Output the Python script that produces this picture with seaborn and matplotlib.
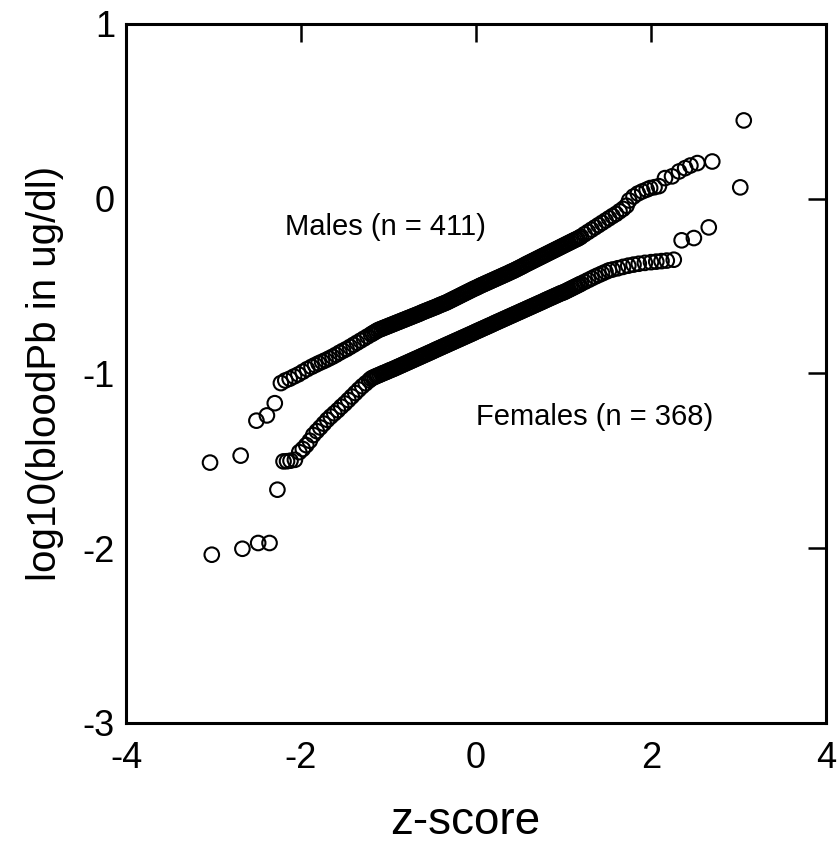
import matplotlib
matplotlib.use('Agg')
import matplotlib.pyplot as plt
import seaborn as sns
import pandas as pd

# Setup

sns.set_theme(style='white')
plt.rcParams['font.family'] = ['Liberation Sans', 'DejaVu Sans']
plt.rcParams['axes.unicode_minus'] = False

# Data

# shared z grid for the dense middle part of both bands
z_mid = [-1.20, -1.18, -1.16, -1.14, -1.12, -1.10, -1.08, -1.06, -1.04, -1.02,
         -1.00, -0.98, -0.96, -0.94, -0.92, -0.90, -0.88, -0.86, -0.84, -0.82,
         -0.80, -0.78, -0.76, -0.74, -0.72, -0.70, -0.68, -0.66, -0.64, -0.62,
         -0.60, -0.58, -0.56, -0.54, -0.52, -0.50, -0.48, -0.46, -0.44, -0.42,
         -0.40, -0.38, -0.36, -0.34, -0.32, -0.30, -0.28, -0.26, -0.24, -0.22,
         -0.20, -0.18, -0.16, -0.14, -0.12, -0.10, -0.08, -0.06, -0.04, -0.02,
         0.00,
         0.02, 0.04, 0.06, 0.08, 0.10, 0.12, 0.14, 0.16, 0.18, 0.20,
         0.22, 0.24, 0.26, 0.28, 0.30, 0.32, 0.34, 0.36, 0.38, 0.40,
         0.42, 0.44, 0.46, 0.48, 0.50, 0.52, 0.54, 0.56, 0.58, 0.60,
         0.62, 0.64, 0.66, 0.68, 0.70, 0.72, 0.74, 0.76, 0.78, 0.80,
         0.82, 0.84, 0.86, 0.88, 0.90, 0.92, 0.94, 0.96, 0.98, 1.00,
         1.02, 1.04, 1.06, 1.08, 1.10, 1.12, 1.14, 1.16, 1.18, 1.20]

male_z_low = [-3.04, -2.69, -2.51, -2.39, -2.30,
              -2.23, -2.18, -2.13, -2.08, -2.03, -1.98, -1.93, -1.88, -1.84, -1.80,
              -1.76, -1.72, -1.68, -1.64, -1.60,
              -1.56, -1.52, -1.48, -1.44, -1.40, -1.36, -1.32, -1.28, -1.24]
male_y_low = [-1.51, -1.47, -1.27, -1.24, -1.17,
              -1.055, -1.040, -1.030, -1.017, -1.005, -0.990, -0.975, -0.962, -0.952, -0.942,
              -0.933, -0.924, -0.914, -0.904, -0.893,
              -0.881, -0.870, -0.860, -0.848, -0.836, -0.824, -0.812, -0.800, -0.788]
male_y_mid = [-0.776, -0.770, -0.764, -0.758, -0.752, -0.748, -0.744, -0.740, -0.736, -0.732,
              -0.728, -0.724, -0.720, -0.716, -0.712, -0.708, -0.704, -0.700, -0.696, -0.692,
              -0.688, -0.684, -0.680, -0.676, -0.672, -0.668, -0.664, -0.660, -0.656, -0.651,
              -0.647, -0.643, -0.639, -0.635, -0.631, -0.627, -0.623, -0.619, -0.615, -0.610,
              -0.606, -0.602, -0.598, -0.594, -0.589, -0.584, -0.579, -0.574, -0.569, -0.564,
              -0.559, -0.554, -0.549, -0.544, -0.539, -0.534, -0.529, -0.524, -0.519, -0.514,
              -0.510,
              -0.505, -0.500, -0.495, -0.491, -0.486, -0.482, -0.477, -0.473, -0.468, -0.464,
              -0.459, -0.455, -0.450, -0.446, -0.441, -0.437, -0.432, -0.428, -0.423, -0.418,
              -0.414, -0.409, -0.404, -0.399, -0.394, -0.389, -0.384, -0.378, -0.373, -0.368,
              -0.363, -0.358, -0.353, -0.348, -0.343, -0.338, -0.333, -0.328, -0.323, -0.318,
              -0.313, -0.308, -0.303, -0.298, -0.293, -0.288, -0.283, -0.278, -0.273, -0.268,
              -0.263, -0.258, -0.253, -0.248, -0.243, -0.238, -0.233, -0.229, -0.223, -0.217]
male_z_high = [1.24, 1.28, 1.32, 1.36, 1.40, 1.44, 1.48, 1.52,
               1.56, 1.60, 1.64, 1.68, 1.72, 1.75, 1.80, 1.85, 1.90, 1.95, 1.99,
               2.04, 2.09, 2.16, 2.24, 2.32, 2.39, 2.45, 2.53, 2.70, 3.06]
male_y_high = [-0.203, -0.190, -0.177, -0.164, -0.151, -0.138, -0.125, -0.112,
               -0.099, -0.087, -0.072, -0.058, -0.040, -0.010, 0.013, 0.030, 0.042, 0.052, 0.061,
               0.066, 0.072, 0.118, 0.128, 0.156, 0.175, 0.190, 0.204, 0.213, 0.448]

female_z_low = [-3.02, -2.67, -2.49, -2.36, -2.27,
                -2.20, -2.16, -2.12, -2.07, -2.02, -1.98, -1.94, -1.90, -1.86, -1.82,
                -1.78, -1.74, -1.70, -1.66, -1.62, -1.58, -1.54, -1.50,
                -1.46, -1.42, -1.38, -1.34, -1.30, -1.26, -1.22]
female_y_low = [-2.037, -2.003, -1.97, -1.97, -1.665,
                -1.503, -1.502, -1.499, -1.494, -1.450, -1.432, -1.410, -1.385, -1.352, -1.330,
                -1.309, -1.287, -1.265, -1.246, -1.228, -1.210, -1.190, -1.172,
                -1.152, -1.132, -1.112, -1.092, -1.073, -1.056, -1.039]
female_y_mid = [-1.030, -1.024, -1.020, -1.015, -1.011, -1.007, -1.002, -0.998, -0.994, -0.990,
                -0.985, -0.981, -0.977, -0.973, -0.968, -0.964, -0.959, -0.955, -0.950, -0.946,
                -0.941, -0.937, -0.932, -0.928, -0.923, -0.919, -0.914, -0.910, -0.905, -0.901,
                -0.896, -0.892, -0.887, -0.883, -0.878, -0.874, -0.869, -0.864, -0.860, -0.855,
                -0.851, -0.846, -0.842, -0.837, -0.833, -0.828, -0.824, -0.819, -0.815, -0.810,
                -0.806, -0.801, -0.797, -0.792, -0.788, -0.783, -0.779, -0.774, -0.770, -0.765,
                -0.760,
                -0.756, -0.751, -0.747, -0.742, -0.738, -0.733, -0.729, -0.724, -0.720, -0.715,
                -0.710, -0.706, -0.701, -0.697, -0.692, -0.688, -0.683, -0.679, -0.674, -0.670,
                -0.665, -0.661, -0.656, -0.652, -0.647, -0.643, -0.638, -0.634, -0.629, -0.625,
                -0.620, -0.616, -0.611, -0.607, -0.602, -0.598, -0.593, -0.589, -0.584, -0.579,
                -0.575, -0.570, -0.566, -0.561, -0.557, -0.552, -0.548, -0.543, -0.539, -0.536,
                -0.531, -0.526, -0.521, -0.516, -0.511, -0.506, -0.501, -0.496, -0.491, -0.486]
female_z_high = [1.24, 1.28, 1.32, 1.36, 1.40, 1.44, 1.48, 1.52, 1.56,
                 1.62, 1.68, 1.74, 1.80, 1.86, 1.93, 2.00, 2.06, 2.12, 2.18, 2.26,
                 2.35, 2.49, 2.66, 3.02]
female_y_high = [-0.476, -0.466, -0.456, -0.446, -0.437, -0.428, -0.419, -0.410, -0.405,
                 -0.398, -0.390, -0.383, -0.377, -0.372, -0.367, -0.363, -0.360, -0.357, -0.354, -0.349,
                 -0.238, -0.225, -0.164, 0.065]

x_ticks = [-4, -2, 0, 2, 4]
y_ticks = [-3, -2, -1, 0, 1]

# Build frame

male_z = male_z_low + z_mid + male_z_high
male_y = male_y_low + male_y_mid + male_y_high
female_z = female_z_low + z_mid + female_z_high
female_y = female_y_low + female_y_mid + female_y_high
assert len(male_z) == len(male_y) and len(female_z) == len(female_y)

df = pd.concat([
    pd.DataFrame({'z': male_z, 'logpb': male_y, 'group': 'Males'}),
    pd.DataFrame({'z': female_z, 'logpb': female_y, 'group': 'Females'}),
], ignore_index=True)

# Plot

fig = plt.figure(figsize=(8.38, 8.47), dpi=100)
ax = fig.add_axes([0.1504, 0.1464, 0.8353, 0.8253])
sns.scatterplot(data=df, x='z', y='logpb', ax=ax, marker='o', s=110,
                facecolors='none', edgecolor='black', linewidth=1.5, legend=False)

ax.set_xlim(-4, 4)
ax.set_ylim(-3, 1)
ax.set_xticks(x_ticks)
ax.set_yticks(y_ticks)
ax.tick_params(axis='both', direction='in', length=13, width=1.8, color='black',
               top=True, right=True, labelsize=26, labelcolor='black')
ax.tick_params(axis='x', pad=13)
ax.tick_params(axis='y', pad=8)
for sp in ax.spines.values():
    sp.set_linewidth(2.2)
    sp.set_color('black')

ax.set_xlabel('z-score', fontsize=33, color='black', labelpad=17)
ax.xaxis.label.set_x(0.484)
ax.set_ylabel('log10(bloodPb in ug/dl)', fontsize=29, color='black', labelpad=13)

ax.text(-2.18, -0.206, 'Males (n = 411)', fontsize=21, color='black', ha='left', va='baseline')
ax.text(0.0, -1.293, 'Females (n = 368)', fontsize=21, color='black', ha='left', va='baseline')

plt.savefig('out.png', dpi=100)
plt.close()
